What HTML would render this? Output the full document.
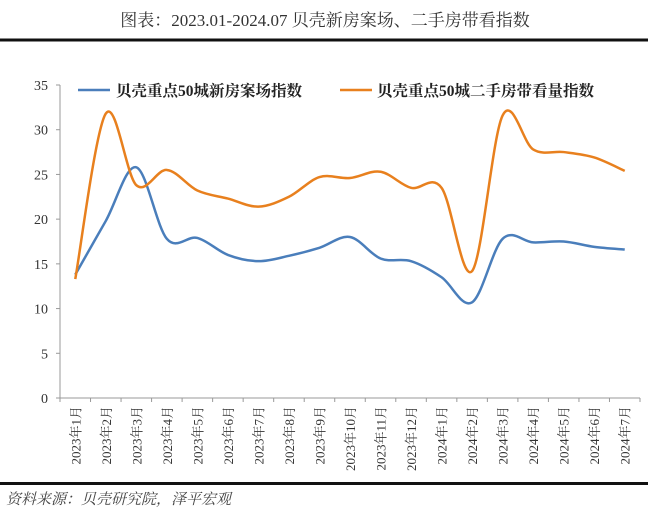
<!DOCTYPE html>
<html><head><meta charset="utf-8"><style>
body{margin:0;background:#fff;}
svg{display:block;font-family:"Liberation Serif","Noto Serif CJK SC",serif;}
</style></head><body>
<svg width="650" height="509" viewBox="0 0 650 509">
<text x="325" y="26" text-anchor="middle" font-size="17" fill="#333">图表：2023.01-2024.07 贝壳新房案场、二手房带看指数</text>
<rect x="0" y="38.5" width="648" height="3" fill="#111"/>
<g id="axes"></g>
<g id="series"></g>
<g>
<line x1="78" y1="90" x2="110" y2="90" stroke="#4a7ebb" stroke-width="2.5"/>
<text x="116" y="96" font-size="15.5" font-weight="bold" fill="#222">贝壳重点50城新房案场指数</text>
<line x1="340" y1="90" x2="372" y2="90" stroke="#e8801e" stroke-width="2.5"/>
<text x="377" y="96" font-size="15.5" font-weight="bold" fill="#222">贝壳重点50城二手房带看量指数</text>
</g>
<rect x="0" y="482" width="648" height="3" fill="#111"/>
<text x="6" y="504" font-size="15" font-style="italic" fill="#444">资料来源：贝壳研究院，泽平宏观</text>
</svg>
<script>
const categories=["2023年1月","2023年2月","2023年3月","2023年4月","2023年5月","2023年6月","2023年7月","2023年8月","2023年9月","2023年10月","2023年11月","2023年12月","2024年1月","2024年2月","2024年3月","2024年4月","2024年5月","2024年6月","2024年7月"];
const newHomeIndex=[13.8,19.8,25.8,17.8,17.9,16.0,15.3,15.9,16.8,18.0,15.6,15.3,13.5,10.7,17.8,17.4,17.5,16.9,16.6];
const secondHandIndex=[13.3,31.8,23.8,25.5,23.2,22.3,21.4,22.5,24.7,24.6,25.3,23.5,23.5,14.2,31.6,27.8,27.5,26.9,25.4];
const yTicks=[0,5,10,15,20,25,30,35];
const NS="http://www.w3.org/2000/svg";
const X0=60,X1=640,Y0=398,Y1=85,YMAX=35;
const bw=(X1-X0)/categories.length;
const xs=i=>X0+bw*(i+0.5);
const ys=v=>Y0-(v/YMAX)*(Y0-Y1);
const axes=document.getElementById('axes');
function mk(tag,attrs,parent){const e=document.createElementNS(NS,tag);for(const k in attrs)e.setAttribute(k,attrs[k]);parent.appendChild(e);return e;}
const ya=mk('line',{x1:X0,y1:Y1,x2:X0,y2:Y0,stroke:'#999','stroke-width':1},axes);


const xa=mk('line',{x1:X0,y1:Y0,x2:X1,y2:Y0,stroke:'#999','stroke-width':1},axes);


yTicks.forEach(t=>{
 const tk=mk('line',{x1:X0-4,x2:X0,y1:ys(t),y2:ys(t),stroke:'#999'},axes);
 
 
 const tx=mk('text',{x:X0-12,y:ys(t)+5,'text-anchor':'end','font-size':14,fill:'#333'},axes);
 tx.textContent=t;
 
 
});
for(let i=0;i<=categories.length;i++){
 const tk=mk('line',{x1:X0+bw*i,x2:X0+bw*i,y1:Y0,y2:Y0+4,stroke:'#999'},axes);
 
 
}
categories.forEach((c,i)=>{
 const tx=mk('text',{x:0,y:0,'text-anchor':'end','font-size':13,fill:'#333',transform:`translate(${xs(i)+5},${Y0+8}) rotate(-90)`},axes);
 tx.textContent=c;
 
 
});
function smooth(vals){
 const p=vals.map((v,i)=>[xs(i),ys(v)]);
 let d=`M${p[0][0]},${p[0][1]}`;
 for(let i=0;i<p.length-1;i++){
  const p0=p[i-1]||p[i],p1=p[i],p2=p[i+1],p3=p[i+2]||p[i+1];
  const c1=[p1[0]+(p2[0]-p0[0])/6,p1[1]+(p2[1]-p0[1])/6];
  const c2=[p2[0]-(p3[0]-p1[0])/6,p2[1]-(p3[1]-p1[1])/6];
  d+=` C${c1[0]},${c1[1]} ${c2[0]},${c2[1]} ${p2[0]},${p2[1]}`;
 }
 return d;
}
const sg=document.getElementById('series');
const l1=mk('path',{d:smooth(newHomeIndex),fill:'none',stroke:'#4a7ebb','stroke-width':2.5},sg);


const l2=mk('path',{d:smooth(secondHandIndex),fill:'none',stroke:'#e8801e','stroke-width':2.5},sg);


</script>
</body></html>
